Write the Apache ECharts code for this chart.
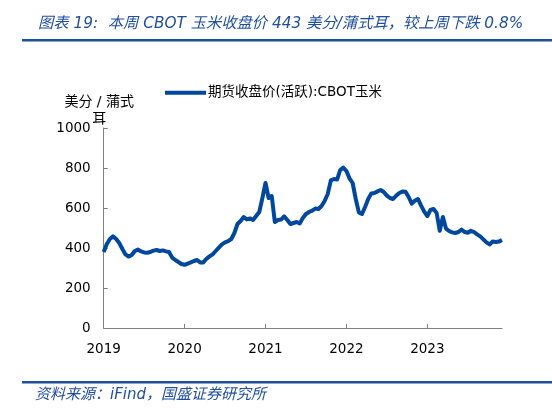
<!DOCTYPE html>
<html>
<head>
<meta charset="utf-8">
<script src="https://cdn.jsdelivr.net/npm/echarts@6/dist/echarts.min.js"></script>
<style>
html,body{margin:0;padding:0;background:#fff;}
#chart{width:552px;height:417px;}
</style>
</head>
<body>
<div id="chart"></div>
<script>
// Values (biweekly closes, US cents per bushel)
var cornValues = [
380,420,445,458,445,425,395,368,357,365,385,392,383,378,376,380,387,390,385,388,
383,380,352,340,330,320,316,322,328,335,340,328,328,346,358,368,385,402,418,428,
434,445,475,520,535,555,543,548,540,560,580,650,725,650,660,530,540,542,558,540,
520,525,530,523,550,570,580,587,597,595,610,635,670,738,745,742,790,802,785,748,
725,645,578,570,605,645,673,675,683,690,680,662,650,645,662,675,682,681,655,622,
636,645,612,582,560,590,595,575,486,555,497,485,478,475,480,492,480,476,486,480,
468,458,443,428,418,432,430,432,440
];
var yearLabels = ['2019','2020','2021','2022','2023'];
var pointsPerYear = 26;
var seriesName = '期货收盘价(活跃):CBOT玉米';
var titleText = '图表 19:  本周 CBOT 玉米收盘价 443 美分/蒲式耳，较上周下跌 0.8%';
var sourceText = '资料来源：iFind，国盛证券研究所';

// category labels: one per biweekly observation
var categories = [];
var start = new Date(2019, 0, 4);
for (var i = 0; i < cornValues.length; i++) {
  var d = new Date(start.getTime() + i * 14 * 86400000);
  categories.push(d.getFullYear() + '-' + (d.getMonth() + 1) + '-' + d.getDate());
}

var FONT = '"DejaVu Sans", "Noto Sans CJK SC", sans-serif';
var BLUE = '#1f4e9f';
var chart = echarts.init(document.getElementById('chart'));
chart.setOption({
  backgroundColor: '#fff',
  animation: false,
  textStyle: { fontFamily: FONT },
  title: {
    text: titleText,
    left: 33, top: 11,
    textStyle: { fontFamily: FONT, fontSize: 15.3, fontWeight: 'normal', fontStyle: 'italic', color: BLUE }
  },
  legend: {
    left: 160, top: 81,
    icon: 'rect', itemWidth: 41, itemHeight: 4, itemGap: 2,
    textStyle: { fontFamily: FONT, fontSize: 13.5, color: '#000', padding: [0, 0, 0, -3] },
    data: [seriesName]
  },
  grid: { left: 103.7, right: 50, top: 128, bottom: 89, containLabel: false },
  xAxis: {
    type: 'category',
    data: categories,
    boundaryGap: false,
    axisLine: { lineStyle: { color: '#808080', width: 1 } },
    axisTick: { inside: true, length: 4, interval: pointsPerYear - 1, lineStyle: { color: '#808080' } },
    axisLabel: {
      interval: pointsPerYear - 1, margin: 15, fontSize: 13.5, color: '#000', fontFamily: FONT,
      formatter: function (v, idx) { return yearLabels[Math.round(idx / pointsPerYear)] || ''; }
    },
    splitLine: { show: false }
  },
  yAxis: {
    type: 'value',
    min: 0, max: 1000, interval: 200,
    name: '美分 / 蒲式\n耳',
    nameLocation: 'end',
    nameGap: 0,
    nameMoveOverlap: false,
    nameTextStyle: { fontFamily: FONT, fontSize: 14, color: '#000', lineHeight: 17, align: 'center', verticalAlign: 'bottom', padding: [0, 9, 0, 0] },
    axisLine: { show: true, lineStyle: { color: '#808080', width: 1 } },
    axisTick: { show: true, inside: true, length: 4, lineStyle: { color: '#808080' } },
    axisLabel: { margin: 13, fontSize: 13.5, color: '#000', fontFamily: FONT,
      formatter: function (v) { return String(v); } },
    splitLine: { show: false }
  },
  series: [{
    name: seriesName,
    type: 'line',
    data: cornValues,
    showSymbol: false,
    symbol: 'none',
    lineStyle: { color: '#00479d', width: 4, join: 'round' },
    itemStyle: { color: '#00479d' }
  }],
  graphic: [
    { type: 'rect', shape: { x: 22, y: 39, width: 530, height: 2.5 }, style: { fill: BLUE } },
    { type: 'rect', shape: { x: 22, y: 381, width: 530, height: 2.5 }, style: { fill: BLUE } },
    { type: 'text', left: 35, top: 388,
      style: { text: sourceText, fontFamily: FONT, fontSize: 15, fontStyle: 'italic', fill: BLUE } }
  ]
});
</script>
</body>
</html>
